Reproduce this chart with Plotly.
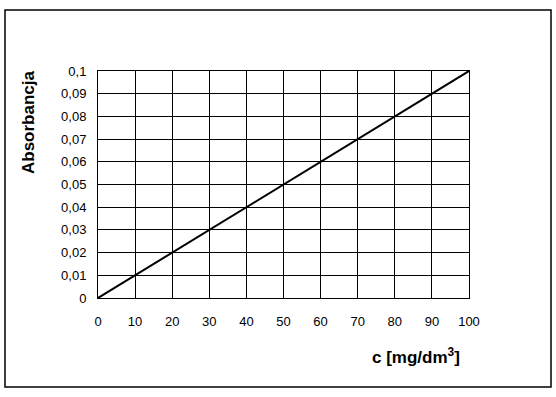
import plotly.graph_objects as go

conc = [0, 10, 20, 30, 40, 50, 60, 70, 80, 90, 100]
absorb = [0, 0.01, 0.02, 0.03, 0.04, 0.05, 0.06, 0.07, 0.08, 0.09, 0.1]
x_ticks = [0, 10, 20, 30, 40, 50, 60, 70, 80, 90, 100]
y_ticks = [0, 0.01, 0.02, 0.03, 0.04, 0.05, 0.06, 0.07, 0.08, 0.09, 0.1]
y_ticktext = ["0", "0,01", "0,02", "0,03", "0,04", "0,05", "0,06", "0,07", "0,08", "0,09", "0,1"]

W, H = 556, 397
L, R, T, B = 98, 87, 71, 99
pw, ph = W - L - R, H - T - B

fig = go.Figure(go.Scatter(x=conc, y=absorb, mode="lines",
                           line=dict(color="black", width=2), showlegend=False,
                           hoverinfo="skip"))

FAM = "Liberation Sans, Arial, sans-serif"
font = dict(family=FAM, size=13, color="black")
fig.update_layout(
    width=W, height=H, margin=dict(l=L, r=R, t=T, b=B),
    paper_bgcolor="white", plot_bgcolor="white", font=font,
    xaxis=dict(range=[0, 100], tickvals=x_ticks, ticktext=[str(v) for v in x_ticks],
               showgrid=True, gridcolor="black", gridwidth=1, zeroline=False,
               showline=True, linecolor="black", linewidth=1, mirror=True,
               ticks="", ticklabelstandoff=11, fixedrange=True),
    yaxis=dict(range=[0, 0.1], tickvals=y_ticks, ticktext=y_ticktext,
               showgrid=True, gridcolor="black", gridwidth=1, zeroline=False,
               showline=True, linecolor="black", linewidth=1, mirror=True,
               ticks="", ticklabelstandoff=8, fixedrange=True),
)

def px(x):
    return (x - L) / pw

def py(y):
    return (H - B - y) / ph

fig.add_shape(type="rect", xref="paper", yref="paper",
              x0=px(5), x1=px(551), y0=py(387), y1=py(10),
              line=dict(color="black", width=1.5), layer="below")

fig.add_annotation(xref="paper", yref="paper", x=px(28), y=py(122),
                   xanchor="center", yanchor="middle",
                   text="<b>Absorbancja</b>", textangle=-90, showarrow=False,
                   font=dict(family=FAM, size=17, color="black"))
fig.add_annotation(xref="paper", yref="paper", x=px(416), y=py(356),
                   xanchor="center", yanchor="middle",
                   text="<b>c [mg/dm<sup>3</sup>]</b>", showarrow=False,
                   font=dict(family=FAM, size=17, color="black"))

fig.write_html("out.html", config={"displayModeBar": False},
               post_script="document.body.style.margin='0';")
